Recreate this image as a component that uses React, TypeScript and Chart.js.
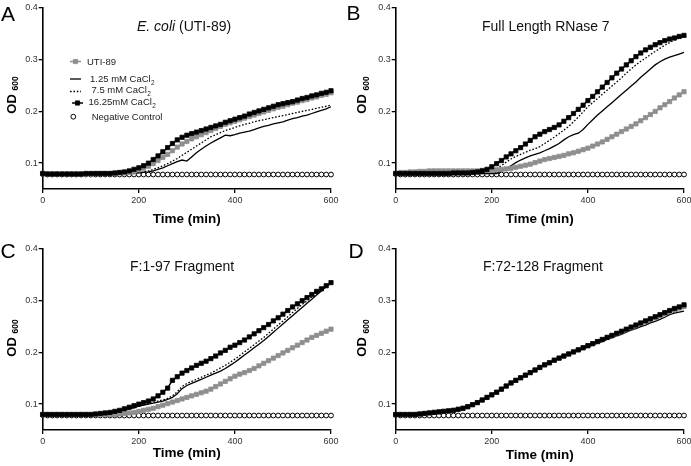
import { useEffect, useRef } from 'react';
import { Chart, registerables } from 'chart.js';

Chart.register(...registerables);

// ---------------- data ----------------
const TIME_MIN = [
  0, 10, 20, 30, 40, 50, 60, 70, 80, 90,
  100, 110, 120, 130, 140, 150, 160, 170, 180, 190,
  200, 210, 220, 230, 240, 250, 260, 270, 280, 290,
  300, 310, 320, 330, 340, 350, 360, 370, 380, 390,
  400, 410, 420, 430, 440, 450, 460, 470, 480, 490,
  500, 510, 520, 530, 540, 550, 560, 570, 580, 590,
  600,
];
const X_TICKS = [0, 200, 400, 600];
const Y_TICKS = [0.1, 0.2, 0.3, 0.4];
const SERIES_LABELS = ['UTI-89', '1.25 mM CaCl₂', '7.5 mM CaCl₂', '16.25mM CaCl₂', 'Negative Control'];
const PANEL_LETTERS = ['A', 'B', 'C', 'D'];
const PANEL_TITLES: [string, boolean][][] = [
  [['E. coli', true], [' (UTI-89)', false]],
  [['Full Length RNase 7', false]],
  [['F:1-97 Fragment', false]],
  [['F:72-128 Fragment', false]],
];
const X_TITLE = 'Time (min)';
const Y_TITLE = 'OD';
const Y_TITLE_SUB = '600';

const NEG_CONTROL = [
  0.079, 0.078, 0.078, 0.078, 0.078, 0.078, 0.078, 0.078, 0.078, 0.078,
  0.078, 0.078, 0.078, 0.078, 0.078, 0.078, 0.078, 0.078, 0.078, 0.078,
  0.078, 0.078, 0.078, 0.078, 0.078, 0.078, 0.078, 0.078, 0.078, 0.078,
  0.078, 0.078, 0.078, 0.078, 0.078, 0.078, 0.078, 0.078, 0.078, 0.078,
  0.078, 0.078, 0.078, 0.078, 0.078, 0.078, 0.078, 0.078, 0.078, 0.078,
  0.078, 0.078, 0.078, 0.078, 0.078, 0.078, 0.078, 0.078, 0.078, 0.078,
  0.078,
];

// Panel A: E. coli (UTI-89)
const A_UTI = [
  0.080, 0.079, 0.079, 0.079, 0.079, 0.079, 0.079, 0.079, 0.079, 0.079,
  0.079, 0.080, 0.080, 0.080, 0.080, 0.080, 0.081, 0.081, 0.082, 0.084,
  0.087, 0.090, 0.094, 0.099, 0.105, 0.111, 0.117, 0.124, 0.131, 0.137,
  0.142, 0.147, 0.151, 0.155, 0.159, 0.163, 0.167, 0.171, 0.175, 0.178,
  0.181, 0.184, 0.187, 0.190, 0.193, 0.196, 0.199, 0.202, 0.205, 0.208,
  0.210, 0.213, 0.216, 0.218, 0.221, 0.223, 0.226, 0.228, 0.231, 0.233,
  0.236,
];
const A_CA125 = [
  0.080, 0.079, 0.079, 0.079, 0.079, 0.079, 0.079, 0.079, 0.079, 0.079,
  0.079, 0.079, 0.079, 0.080, 0.080, 0.080, 0.080, 0.080, 0.080, 0.080,
  0.081, 0.082, 0.083, 0.085, 0.088, 0.091, 0.095, 0.099, 0.103, 0.106,
  0.104, 0.112, 0.120, 0.127, 0.133, 0.139, 0.144, 0.149, 0.154, 0.153,
  0.155, 0.158, 0.160, 0.162, 0.165, 0.168, 0.171, 0.173, 0.176, 0.178,
  0.180, 0.183, 0.186, 0.188, 0.191, 0.193, 0.196, 0.199, 0.202, 0.205,
  0.209,
];
const A_CA75 = [
  0.080, 0.079, 0.079, 0.079, 0.079, 0.079, 0.079, 0.079, 0.079, 0.079,
  0.079, 0.079, 0.080, 0.080, 0.080, 0.080, 0.080, 0.080, 0.081, 0.081,
  0.082, 0.083, 0.085, 0.088, 0.091, 0.095, 0.099, 0.104, 0.109, 0.115,
  0.121, 0.127, 0.133, 0.139, 0.145, 0.151, 0.155, 0.159, 0.163, 0.166,
  0.169, 0.172, 0.175, 0.177, 0.180, 0.182, 0.184, 0.186, 0.188, 0.190,
  0.192, 0.194, 0.196, 0.198, 0.200, 0.202, 0.204, 0.206, 0.208, 0.210,
  0.212,
];
const A_CA1625 = [
  0.080, 0.079, 0.079, 0.079, 0.079, 0.079, 0.079, 0.079, 0.079, 0.080,
  0.080, 0.080, 0.080, 0.080, 0.080, 0.081, 0.082, 0.083, 0.085, 0.088,
  0.091, 0.095, 0.100, 0.107, 0.114, 0.122, 0.130, 0.138, 0.145, 0.150,
  0.154, 0.157, 0.160, 0.163, 0.166, 0.169, 0.172, 0.175, 0.179, 0.182,
  0.185, 0.188, 0.191, 0.195, 0.198, 0.201, 0.204, 0.207, 0.210, 0.213,
  0.215, 0.217, 0.219, 0.222, 0.225, 0.227, 0.230, 0.232, 0.235, 0.237,
  0.240,
];

// Panel B: Full Length RNase 7
const B_UTI = [
  0.080, 0.082, 0.082, 0.083, 0.083, 0.084, 0.084, 0.085, 0.085, 0.085,
  0.085, 0.085, 0.085, 0.085, 0.085, 0.085, 0.085, 0.085, 0.086, 0.086,
  0.086, 0.087, 0.088, 0.089, 0.090, 0.092, 0.094, 0.096, 0.098, 0.101,
  0.104, 0.107, 0.109, 0.111, 0.113, 0.115, 0.118, 0.120, 0.123, 0.126,
  0.129, 0.133, 0.137, 0.141, 0.146, 0.151, 0.156, 0.161, 0.166, 0.171,
  0.176, 0.182, 0.188, 0.194, 0.200, 0.207, 0.213, 0.219, 0.226, 0.232,
  0.238,
];
const B_CA125 = [
  0.080, 0.080, 0.080, 0.080, 0.080, 0.080, 0.080, 0.080, 0.080, 0.080,
  0.080, 0.080, 0.080, 0.080, 0.080, 0.080, 0.080, 0.080, 0.080, 0.080,
  0.080, 0.080, 0.084, 0.089, 0.095, 0.101, 0.106, 0.110, 0.114, 0.117,
  0.120, 0.124, 0.128, 0.133, 0.138, 0.145, 0.151, 0.155, 0.158, 0.165,
  0.175, 0.184, 0.193, 0.201, 0.209, 0.217, 0.225, 0.233, 0.241, 0.249,
  0.257, 0.266, 0.274, 0.282, 0.290, 0.296, 0.301, 0.305, 0.308, 0.311,
  0.314,
];
const B_CA75 = [
  0.080, 0.080, 0.080, 0.080, 0.080, 0.080, 0.080, 0.080, 0.080, 0.080,
  0.080, 0.080, 0.080, 0.080, 0.080, 0.080, 0.080, 0.080, 0.080, 0.080,
  0.084, 0.089, 0.095, 0.102, 0.108, 0.113, 0.117, 0.121, 0.125, 0.128,
  0.132, 0.138, 0.144, 0.150, 0.157, 0.164, 0.171, 0.180, 0.189, 0.199,
  0.209, 0.217, 0.225, 0.233, 0.241, 0.249, 0.257, 0.265, 0.274, 0.282,
  0.290, 0.297, 0.303, 0.310, 0.316, 0.322, 0.328, 0.333, 0.338, 0.342,
  0.345,
];
const B_CA1625 = [
  0.080, 0.080, 0.080, 0.080, 0.080, 0.080, 0.080, 0.080, 0.080, 0.080,
  0.080, 0.080, 0.081, 0.081, 0.081, 0.081, 0.082, 0.083, 0.085, 0.088,
  0.093, 0.099, 0.105, 0.112, 0.118, 0.124, 0.130, 0.137, 0.144, 0.151,
  0.156, 0.161, 0.165, 0.169, 0.174, 0.181, 0.188, 0.196, 0.204, 0.212,
  0.221, 0.229, 0.238, 0.247, 0.256, 0.265, 0.274, 0.282, 0.290, 0.298,
  0.306, 0.313, 0.319, 0.324, 0.329, 0.333, 0.337, 0.340, 0.342, 0.345,
  0.347,
];

// Panel C: F:1-97 Fragment
const C_UTI = [
  0.080, 0.080, 0.080, 0.080, 0.080, 0.080, 0.080, 0.080, 0.080, 0.080,
  0.080, 0.080, 0.080, 0.080, 0.080, 0.080, 0.081, 0.082, 0.083, 0.084,
  0.086, 0.088, 0.090, 0.092, 0.095, 0.098, 0.101, 0.104, 0.107, 0.110,
  0.113, 0.116, 0.119, 0.122, 0.125, 0.129, 0.134, 0.139, 0.144, 0.149,
  0.154, 0.158, 0.161, 0.165, 0.169, 0.174, 0.179, 0.184, 0.189, 0.194,
  0.199, 0.204, 0.209, 0.214, 0.219, 0.224, 0.229, 0.233, 0.237, 0.241,
  0.245,
];
const C_CA125 = [
  0.080, 0.080, 0.080, 0.080, 0.080, 0.080, 0.080, 0.080, 0.080, 0.080,
  0.080, 0.081, 0.082, 0.083, 0.084, 0.085, 0.087, 0.089, 0.091, 0.093,
  0.096, 0.098, 0.100, 0.102, 0.104, 0.106, 0.109, 0.113, 0.120, 0.130,
  0.136, 0.140, 0.144, 0.148, 0.152, 0.156, 0.160, 0.164, 0.169, 0.175,
  0.181, 0.188, 0.195, 0.202, 0.209, 0.216, 0.223, 0.231, 0.239, 0.247,
  0.255, 0.263, 0.271, 0.279, 0.287, 0.295, 0.303, 0.311, 0.319, 0.327,
  0.334,
];
const C_CA75 = [
  0.080, 0.080, 0.080, 0.080, 0.080, 0.080, 0.080, 0.080, 0.080, 0.080,
  0.080, 0.081, 0.082, 0.083, 0.084, 0.085, 0.087, 0.089, 0.091, 0.094,
  0.097, 0.099, 0.101, 0.103, 0.106, 0.108, 0.111, 0.116, 0.124, 0.134,
  0.140, 0.144, 0.148, 0.152, 0.156, 0.160, 0.165, 0.170, 0.175, 0.181,
  0.187, 0.194, 0.201, 0.208, 0.215, 0.222, 0.229, 0.237, 0.245, 0.253,
  0.261, 0.269, 0.277, 0.285, 0.293, 0.300, 0.307, 0.314, 0.321, 0.328,
  0.336,
];
const C_CA1625 = [
  0.080, 0.080, 0.080, 0.080, 0.080, 0.080, 0.080, 0.080, 0.080, 0.080,
  0.080, 0.081, 0.082, 0.083, 0.084, 0.086, 0.088, 0.091, 0.094, 0.097,
  0.100, 0.103, 0.106, 0.110, 0.116, 0.123, 0.131, 0.146, 0.153, 0.160,
  0.165, 0.170, 0.175, 0.179, 0.183, 0.188, 0.193, 0.199, 0.204, 0.210,
  0.214, 0.219, 0.224, 0.230, 0.236, 0.242, 0.248, 0.254, 0.261, 0.267,
  0.274, 0.281, 0.288, 0.294, 0.300, 0.306, 0.312, 0.318, 0.323, 0.329,
  0.335,
];

// Panel D: F:72-128 Fragment
const D_UTI = [
  0.080, 0.080, 0.080, 0.080, 0.080, 0.081, 0.082, 0.083, 0.084, 0.085,
  0.086, 0.087, 0.088, 0.090, 0.092, 0.095, 0.099, 0.103, 0.108, 0.113,
  0.118, 0.123, 0.129, 0.135, 0.141, 0.146, 0.151, 0.156, 0.161, 0.166,
  0.171, 0.176, 0.180, 0.185, 0.189, 0.193, 0.197, 0.201, 0.205, 0.209,
  0.213, 0.217, 0.221, 0.225, 0.229, 0.232, 0.236, 0.240, 0.244, 0.248,
  0.252, 0.256, 0.260, 0.264, 0.267, 0.271, 0.275, 0.279, 0.283, 0.286,
  0.289,
];
const D_CA125 = [
  0.080, 0.080, 0.080, 0.080, 0.080, 0.081, 0.082, 0.083, 0.084, 0.085,
  0.086, 0.087, 0.088, 0.090, 0.092, 0.095, 0.099, 0.103, 0.108, 0.113,
  0.118, 0.123, 0.129, 0.135, 0.141, 0.146, 0.151, 0.156, 0.161, 0.166,
  0.171, 0.176, 0.180, 0.185, 0.189, 0.192, 0.196, 0.200, 0.203, 0.207,
  0.210, 0.214, 0.218, 0.221, 0.225, 0.228, 0.232, 0.235, 0.239, 0.243,
  0.246, 0.250, 0.253, 0.257, 0.260, 0.264, 0.268, 0.273, 0.276, 0.278,
  0.280,
];
const D_CA75 = [
  0.080, 0.080, 0.080, 0.080, 0.080, 0.081, 0.082, 0.083, 0.084, 0.085,
  0.086, 0.087, 0.088, 0.090, 0.092, 0.095, 0.099, 0.103, 0.108, 0.113,
  0.118, 0.123, 0.129, 0.135, 0.141, 0.146, 0.151, 0.156, 0.161, 0.166,
  0.171, 0.176, 0.180, 0.185, 0.189, 0.193, 0.197, 0.201, 0.205, 0.209,
  0.212, 0.216, 0.220, 0.223, 0.227, 0.231, 0.235, 0.238, 0.242, 0.246,
  0.250, 0.254, 0.257, 0.261, 0.264, 0.268, 0.272, 0.276, 0.279, 0.282,
  0.285,
];
const D_CA1625 = [
  0.080, 0.080, 0.080, 0.080, 0.080, 0.081, 0.082, 0.083, 0.084, 0.085,
  0.086, 0.087, 0.088, 0.090, 0.092, 0.095, 0.099, 0.103, 0.108, 0.113,
  0.118, 0.123, 0.129, 0.135, 0.141, 0.146, 0.151, 0.156, 0.161, 0.166,
  0.171, 0.176, 0.180, 0.185, 0.189, 0.193, 0.197, 0.201, 0.205, 0.209,
  0.213, 0.217, 0.221, 0.225, 0.229, 0.233, 0.237, 0.241, 0.245, 0.249,
  0.253, 0.257, 0.261, 0.265, 0.269, 0.273, 0.277, 0.281, 0.285, 0.288,
  0.292,
];

const PANEL_SERIES = [
  [A_UTI, A_CA125, A_CA75, A_CA1625, NEG_CONTROL],
  [B_UTI, B_CA125, B_CA75, B_CA1625, NEG_CONTROL],
  [C_UTI, C_CA125, C_CA75, C_CA1625, NEG_CONTROL],
  [D_UTI, D_CA125, D_CA75, D_CA1625, NEG_CONTROL],
];

// ---------------- layout & style ----------------
const W = 691;
const H = 466;
const Y_AXIS_W = 40;
const X_AXIS_H = 30;
const FONT = '"Liberation Sans", Arial, Helvetica, sans-serif';
const GRAY = '#8e8e8e';

type Layout = {
  area: [number, number, number, number];
  letterX: number; letterY: number;
  titleX: number; titleY: number;
  yTitleX: number; yTitleY: number;
  xTitleY: number;
  legend: boolean;
};

const LAYOUTS: Layout[] = [
  { area: [42.7, 8, 331, 189], letterX: 1, letterY: 21, titleX: 137, titleY: 31, yTitleX: 15.5, yTitleY: 95, xTitleY: 223, legend: true },
  { area: [395.7, 8, 684, 189], letterX: 346.5, letterY: 19.5, titleX: 482, titleY: 30.7, yTitleX: 366, yTitleY: 95, xTitleY: 223, legend: false },
  { area: [42.7, 249, 331, 430], letterX: 0.5, letterY: 258, titleX: 130, titleY: 270.5, yTitleX: 15.5, yTitleY: 338, xTitleY: 457, legend: false },
  { area: [395.7, 249, 684, 430], letterX: 348.5, letterY: 257.5, titleX: 483, titleY: 270.5, yTitleX: 366, yTitleY: 338, xTitleY: 458.5, legend: false },
];

type Style = {
  color: string; width: number; dash: number[]; point: 'rect' | 'circle' | false;
  radius: number; fill: string; pointBorder: number; showLine: boolean; order: number;
};

const STYLES: Style[] = [
  { color: GRAY, width: 1.5, dash: [], point: 'rect', radius: 3.0, fill: GRAY, pointBorder: 0.8, showLine: true, order: 1 },
  { color: '#000', width: 1.3, dash: [], point: false, radius: 0, fill: '#000', pointBorder: 0, showLine: true, order: 2 },
  { color: '#000', width: 1.3, dash: [1.6, 1.8], point: false, radius: 0, fill: '#000', pointBorder: 0, showLine: true, order: 3 },
  { color: '#000', width: 1.5, dash: [], point: 'rect', radius: 3.0, fill: '#000', pointBorder: 0.8, showLine: true, order: 0 },
  { color: '#000', width: 1, dash: [], point: 'circle', radius: 2.4, fill: '#fff', pointBorder: 1, showLine: false, order: 4 },
];

// legend geometry for panel A (sample x range, text x, sample y, text y)
const LEGEND_ROWS = [
  { x1: 70, x2: 81, tx: 87, sy: 61.5, ty: 64.5 },
  { x1: 70, x2: 81, tx: 90, sy: 79, ty: 81.5 },
  { x1: 70, x2: 81, tx: 91.5, sy: 91.5, ty: 93 },
  { x1: 72, x2: 83, tx: 88.5, sy: 103, ty: 105 },
  { x1: 73.3, x2: 73.3, tx: 91.7, sy: 116.7, ty: 120 },
];

function drawSubText(ctx: CanvasRenderingContext2D, label: string, x: number, y: number, size: number, weight = '') {
  const parts = label.split('₂');
  let cx = x;
  parts.forEach((part, i) => {
    ctx.font = `${weight}${size}px ${FONT}`;
    ctx.fillText(part, cx, y);
    cx += ctx.measureText(part).width;
    if (i < parts.length - 1) {
      ctx.font = `${weight}${size * 0.68}px ${FONT}`;
      ctx.fillText('2', cx + 0.3, y + 3);
      cx += ctx.measureText('2').width + 0.3;
    }
  });
}

function drawMarker(ctx: CanvasRenderingContext2D, s: Style, x: number, y: number) {
  if (!s.point) return;
  ctx.save();
  ctx.setLineDash([]);
  ctx.lineWidth = s.pointBorder;
  ctx.strokeStyle = s.color;
  ctx.fillStyle = s.fill;
  ctx.beginPath();
  if (s.point === 'rect') {
    const h = s.radius * Math.SQRT1_2;
    ctx.rect(x - h, y - h, 2 * h, 2 * h);
  } else {
    ctx.arc(x, y, s.radius, 0, Math.PI * 2);
  }
  ctx.fill();
  ctx.stroke();
  ctx.restore();
}

function makePlugin(idx: number) {
  const L = LAYOUTS[idx];
  return {
    id: 'panelText' + idx,
    afterDraw(chart: any) {
      const ctx: CanvasRenderingContext2D = chart.ctx;
      const area = chart.chartArea;
      ctx.save();
      ctx.textAlign = 'left';
      ctx.textBaseline = 'alphabetic';
      ctx.fillStyle = '#000';
      // panel letter
      ctx.font = `21px ${FONT}`;
      ctx.fillText(PANEL_LETTERS[idx], L.letterX, L.letterY);
      // panel title
      ctx.fillStyle = '#111';
      let tx = L.titleX;
      for (const [text, italic] of PANEL_TITLES[idx]) {
        ctx.font = `${italic ? 'italic ' : ''}14px ${FONT}`;
        ctx.fillText(text, tx, L.titleY);
        tx += ctx.measureText(text).width;
      }
      // x title
      ctx.fillStyle = '#000';
      ctx.font = `bold 13.5px ${FONT}`;
      ctx.textAlign = 'center';
      ctx.fillText(X_TITLE, (area.left + area.right) / 2, L.xTitleY);
      // y title with subscript
      ctx.save();
      ctx.translate(L.yTitleX, L.yTitleY);
      ctx.rotate(-Math.PI / 2);
      ctx.textAlign = 'left';
      ctx.font = `bold 13px ${FONT}`;
      const wMain = ctx.measureText(Y_TITLE + ' ').width;
      ctx.font = `bold 8.5px ${FONT}`;
      const wSub = ctx.measureText(Y_TITLE_SUB).width;
      const start = -(wMain + wSub) / 2;
      ctx.font = `bold 13px ${FONT}`;
      ctx.fillText(Y_TITLE, start, 0);
      ctx.font = `bold 8.5px ${FONT}`;
      ctx.fillText(Y_TITLE_SUB, start + wMain, 2.5);
      ctx.restore();
      // legend
      if (L.legend) {
        ctx.textAlign = 'left';
        LEGEND_ROWS.forEach((row, i) => {
          const s = STYLES[i];
          if (s.showLine) {
            ctx.save();
            ctx.strokeStyle = s.color;
            ctx.lineWidth = s.width;
            ctx.setLineDash(s.dash);
            ctx.beginPath();
            ctx.moveTo(row.x1, row.sy);
            ctx.lineTo(row.x2, row.sy);
            ctx.stroke();
            ctx.restore();
          }
          drawMarker(ctx, s, (row.x1 + row.x2) / 2, row.sy);
          ctx.fillStyle = '#222';
          drawSubText(ctx, SERIES_LABELS[i], row.tx, row.ty, 9.5);
        });
      }
      ctx.restore();
    },
  };
}

function buildConfig(idx: number): any {
  const [l, t, r, b] = LAYOUTS[idx].area;
  const datasets = PANEL_SERIES[idx].map((values, i) => {
    const s = STYLES[i];
    return {
      label: SERIES_LABELS[i],
      data: TIME_MIN.map((x, k) => ({ x, y: values[k] })),
      borderColor: s.color,
      borderWidth: s.width,
      borderDash: s.dash,
      backgroundColor: s.fill,
      showLine: s.showLine,
      pointStyle: s.point || 'circle',
      pointRadius: s.point ? s.radius : 0,
      pointBorderWidth: s.pointBorder,
      pointBorderColor: s.color,
      pointBackgroundColor: s.fill,
      tension: 0,
      fill: false,
      clip: false,
      order: s.order,
    };
  });
  const tickFont = { family: FONT, size: 9 };
  return {
    type: 'line',
    data: { datasets },
    options: {
      responsive: false,
      animation: false,
      devicePixelRatio: 1,
      events: [],
      layout: { padding: { left: l - Y_AXIS_W, top: t, right: W - r, bottom: H - b - X_AXIS_H } },
      plugins: { legend: { display: false }, tooltip: { enabled: false }, title: { display: false } },
      scales: {
        x: {
          type: 'linear',
          min: 0,
          max: 600,
          afterBuildTicks: (s: any) => { s.ticks = X_TICKS.map((v) => ({ value: v })); },
          afterFit: (s: any) => { s.height = X_AXIS_H; s.paddingLeft = 0; s.paddingRight = 0; },
          ticks: { font: tickFont, color: '#333', padding: 2, maxRotation: 0, autoSkip: false, callback: (v: any) => String(v) },
          grid: { display: true, drawOnChartArea: false, drawTicks: true, tickLength: 4, color: '#000', lineWidth: 1.3 },
          border: { display: true, color: '#000', width: 1.6 },
        },
        y: {
          type: 'linear',
          min: 0.05,
          max: 0.4,
          afterBuildTicks: (s: any) => { s.ticks = Y_TICKS.map((v) => ({ value: v })); },
          afterFit: (s: any) => { s.width = Y_AXIS_W; s.paddingTop = 0; s.paddingBottom = 0; },
          ticks: { font: tickFont, color: '#333', padding: 1, autoSkip: false, callback: (v: any) => Number(v).toFixed(1) },
          grid: { display: true, drawOnChartArea: false, drawTicks: true, tickLength: 4, color: '#000', lineWidth: 1.3 },
          border: { display: true, color: '#000', width: 1.6 },
        },
      },
    },
    plugins: [makePlugin(idx)],
  };
}

function Panel({ idx }: { idx: number }) {
  const ref = useRef<HTMLCanvasElement>(null);
  useEffect(() => {
    if (!ref.current) return;
    const chart = new Chart(ref.current, buildConfig(idx));
    return () => chart.destroy();
  }, [idx]);
  return (
    <canvas
      ref={ref}
      width={W}
      height={H}
      style={{ position: 'absolute', left: 0, top: 0, width: W, height: H }}
    />
  );
}

export default function App() {
  return (
    <div style={{ position: 'absolute', left: 0, top: 0, width: W, height: H, background: '#fff', overflow: 'hidden' }}>
      {[0, 1, 2, 3].map((i) => (
        <Panel key={i} idx={i} />
      ))}
    </div>
  );
}
